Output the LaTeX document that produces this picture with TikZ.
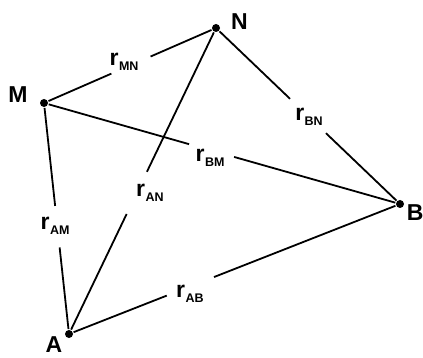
\documentclass[tikz,border=0pt]{standalone}
\usepackage{fontspec}
\setmainfont{Liberation Sans}
\newcommand\rsub[1]{r\kern0.5pt\raisebox{-4.5pt}{\fontsize{12.5}{12.5}\selectfont #1}}
\begin{document}
\begin{tikzpicture}[x=1pt,y=-1pt, line width=1.8pt,
  dot/.style={circle,fill=black,inner sep=0pt,minimum size=8pt},
  ptlabel/.style={font=\fontsize{23}{23}\selectfont\bfseries, inner sep=0pt},
  gap/.style={circle, inner sep=0pt},
  lab/.style={inner sep=0pt, font=\fontsize{23}{23}\selectfont\bfseries}]
\useasboundingbox (0,0) rectangle (423,358);
% points
\node[dot] (N) at (216,28) {};
\node[dot] (M) at (44,103) {};
\node[dot] (B) at (400,204) {};
\node[dot] (A) at (69,334) {};
% point names
\node[ptlabel, anchor=base] (tN) at (239.5,30) {N};
\node[ptlabel, anchor=base] (tM) at (18,103) {M};
\node[ptlabel, anchor=base west] (tB) at (406,221) {B};
\node[ptlabel, anchor=base] (tA) at (54,352) {A};
% gaps in the connectors
\path (M) -- node[gap, minimum size=41pt, pos=0.506] (gMN) {} (N);
\path (N) -- node[gap, minimum size=48pt, pos=0.5] (gBN) {} (B);
\path (M) -- node[gap, minimum size=45pt, pos=0.47] (gBM) {} (B);
\path (A) -- node[gap, minimum size=45pt, pos=0.46] (gAN) {} (N);
\path (A) -- node[gap, minimum size=40pt, pos=0.463] (gAM) {} (M);
\path (A) -- node[gap, minimum size=49pt, pos=0.363] (gAB) {} (B);
% connectors
\draw (M) -- (gMN) (gMN) -- (N);
\draw (N) -- (gBN) (gBN) -- (B);
\draw (M) -- (gBM) (gBM) -- (B);
\draw (A) -- (gAN) (gAN) -- (N);
\draw (A) -- (gAM) (gAM) -- (M);
\draw (A) -- (gAB) (gAB) -- (B);
% distance labels
\node[lab] (lMN) at (124,62) {\rsub{MN}};
\node[lab] (lBN) at (309,117) {\rsub{BN}};
\node[lab] (lBM) at (210,158) {\rsub{BM}};
\node[lab] (lAN) at (150,193) {\rsub{AN}};
\node[lab] (lAM) at (55,226) {\rsub{AM}};
\node[lab] (lAB) at (190,294) {\rsub{AB}};
\end{tikzpicture}
\end{document}
